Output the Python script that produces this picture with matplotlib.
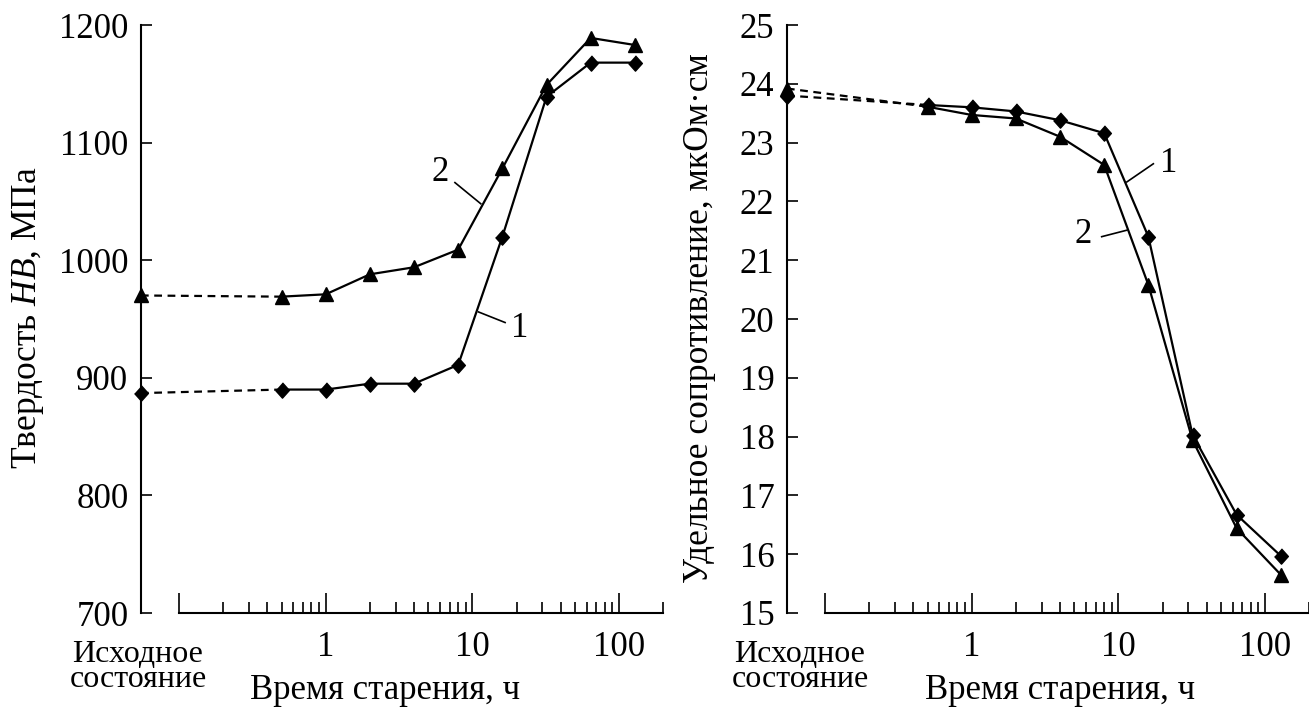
import matplotlib.pyplot as plt
from matplotlib.ticker import FixedLocator, NullFormatter

plt.rcParams['font.family'] = ['Liberation Serif', 'DejaVu Serif']
plt.rcParams['mathtext.fontset'] = 'custom'
plt.rcParams['mathtext.rm'] = 'Liberation Serif'
plt.rcParams['mathtext.it'] = 'Liberation Serif:italic'

# время старения, ч
hours = [0.5, 1, 2, 4, 8, 16, 32, 64, 128]

# твердость HB, МПа (1 - ромбы, 2 - треугольники)
hb_init_1 = 887
hb_1 = [890, 890, 895, 895, 911, 1020, 1139, 1168, 1168]
hb_init_2 = 970
hb_2 = [969, 971, 988, 994, 1009, 1078, 1149, 1189, 1183]

# удельное сопротивление, мкОм·см
rho_init_1 = 23.80
rho_1 = [23.64, 23.60, 23.53, 23.38, 23.16, 21.40, 18.03, 16.67, 15.97]
rho_init_2 = 23.92
rho_2 = [23.61, 23.47, 23.41, 23.10, 22.62, 20.58, 17.94, 16.44, 15.65]

hb_ticks = [700, 800, 900, 1000, 1100, 1200]
rho_ticks = list(range(15, 26))
x_major = [0.1, 1, 10, 100]
x_major_labels = ['', '1', '10', '100']
x_minor = [k * d for d in (0.1, 1, 10) for k in range(2, 10)] + [200]

# точка "исходное состояние" ставится левее шкалы времени
X_INIT = 0.055
X_MAX = 200

diamond = [(0, 1), (0.9, 0), (0, -1), (-0.9, 0)]
dash = (0, (3.5, 2.5))
LW = 1.6

W, H = 1309, 708
fig = plt.figure(figsize=(W / 100, H / 100), dpi=100)
ax1 = fig.add_axes([140.9 / W, 95 / H, 522.4 / W, 588 / H])
ax2 = fig.add_axes([786.9 / W, 95 / H, 522.4 / W, 588 / H])


def panel(ax, y_init1, y1, y_init2, y2, yticks):
    ax.set_xscale('log')
    ax.set_xlim(X_INIT, X_MAX)
    ax.set_ylim(yticks[0], yticks[-1])
    for y0, ys, mk, ms in ((y_init2, y2, '^', 10), (y_init1, y1, diamond, 11)):
        ax.plot([X_INIT, hours[0]], [y0, ys[0]], ls=dash, color='k', lw=LW, zorder=2)
        ax.plot(hours, ys, '-', color='k', lw=LW, zorder=2)
        ax.plot([X_INIT] + hours, [y0] + ys, ls='none', marker=mk, ms=ms,
                color='k', clip_on=False, zorder=3)

    ax.spines['top'].set_visible(False)
    ax.spines['right'].set_visible(False)
    ax.spines['bottom'].set_bounds(0.1, X_MAX)
    for s in ('left', 'bottom'):
        ax.spines[s].set_linewidth(1.5)

    ax.xaxis.set_major_locator(FixedLocator(x_major))
    ax.set_xticklabels(x_major_labels)
    ax.xaxis.set_minor_locator(FixedLocator(x_minor))
    ax.xaxis.set_minor_formatter(NullFormatter())
    ax.set_yticks(yticks)
    ax.tick_params(axis='x', which='major', direction='in', length=14.4,
                   width=1.2, pad=13, labelsize=25)
    ax.tick_params(axis='x', which='minor', direction='in', length=7.9, width=1.2)
    ax.tick_params(axis='y', direction='in', length=8, width=1.2, pad=9,
                   labelsize=25)
    ax.patch.set_visible(False)


panel(ax1, hb_init_1, hb_1, hb_init_2, hb_2, hb_ticks)
panel(ax2, rho_init_1, rho_1, rho_init_2, rho_2, rho_ticks)

# номера кривых с выносками
for ax, num, txt_xy, seg in (
        (ax1, '2', (6.0, 1075), [(7.6, 1066), (11.4, 1048)]),
        (ax1, '1', (21.1, 942), [(16.7, 947), (11.0, 956)]),
        (ax2, '1', (21.9, 22.65), [(17.3, 22.64), (11.4, 22.33)]),
        (ax2, '2', (5.77, 21.43), [(7.69, 21.40), (11.4, 21.51)])):
    ax.text(*txt_xy, num, fontsize=25, ha='center', va='center')
    ax.plot([p[0] for p in seg], [p[1] for p in seg], color='k', lw=1.2)

# подписи осей
fig.text(28 / W, 1 - 318 / H, 'Твердость $HB$, МПа', rotation=90,
         ha='center', va='center', fontsize=25.5)
fig.text(700 / W, 1 - 318 / H, 'Удельное сопротивление, мкОм·см', rotation=90,
         ha='center', va='center', fontsize=25.5)

for xc, xl in ((138, 385), (800, 1060)):
    fig.text(xc / W, 1 - 667 / H, 'Исходное\nсостояние', ha='center',
             va='center', multialignment='center', fontsize=23, linespacing=0.82)
    fig.text(xl / W, 1 - 699 / H, 'Время старения, ч', ha='center',
             va='baseline', fontsize=25)

fig.savefig('out.png', dpi=100, facecolor='white')
